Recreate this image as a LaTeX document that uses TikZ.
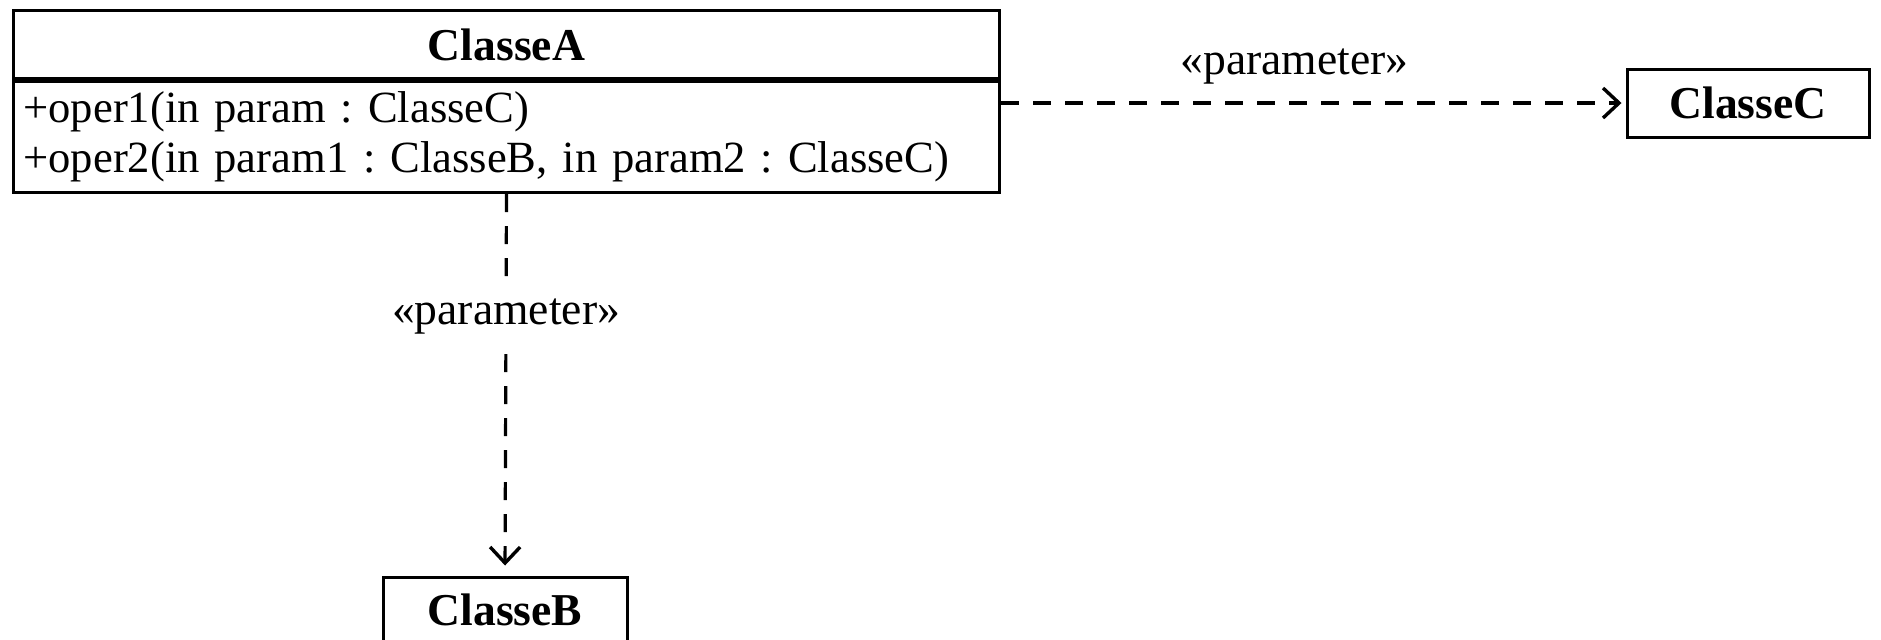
\documentclass[tikz,border=0pt]{standalone}
\usepackage{fontspec}
\setmainfont{Liberation Serif}
\usetikzlibrary{positioning,arrows.meta}

\newcommand\umlfont{\fontsize{22.8}{25}\selectfont\frenchspacing}

\tikzset{
  classbox/.style={draw, line width=1.5pt, inner sep=0pt, minimum height=34pt, font=\umlfont\bfseries},
  opsbox/.style={draw, line width=1.5pt, inner xsep=5pt, align=left,
    font=\fontsize{22.3}{25}\selectfont\frenchspacing},
  paramdep/.style={dash pattern=on 9pt off 7pt, line width=1.6pt,
    -{Straight Barb[length=8pt,width=15pt,line width=1.7pt]}},
  stereo/.style={font=\umlfont}
}

\begin{document}
\begin{tikzpicture}[x=0.5pt, y=-0.5pt]
    \useasboundingbox (0,0) rectangle (1881,639);

    % class with its operations
    \node[classbox, minimum width=493pt, anchor=north west] (classeA) at (12,9) {ClasseA};
    \node[opsbox, below=0pt of classeA, minimum height=55.5pt, text width=483pt] (classeAops)
        {+oper1(in param : ClasseC)\\+oper2(in param1 : ClasseB, in param2 : ClasseC)};

    % parameter types
    \node[classbox, minimum width=121pt] (classeC) at (1748,103) {ClasseC};
    \node[classbox, minimum width=122pt, minimum height=33pt] (classeB) at (505,610) {ClasseB};

    % dependencies
    \draw[paramdep, shorten >=2pt] (classeAops.east |- classeC.west) -- (classeC.west)
        node[stereo, pos=0.47, above=5.5pt] (depC) {«parameter»};
    \draw[paramdep, shorten >=5pt] (classeAops.south) -- (classeB.north)
        node[stereo, pos=0.32, fill=white, inner ysep=9.5pt] (depB) {«parameter»};

\end{tikzpicture}
\end{document}
